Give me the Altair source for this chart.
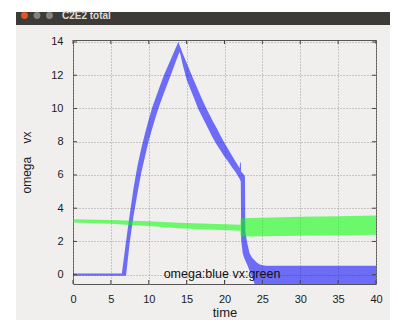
import altair as alt
import pandas as pd

# ---------------- data ----------------
blue_t = [0, 6.45, 7.0, 7.5, 8.0, 8.5, 9.0, 9.5, 10.0, 10.5, 11.0, 11.5, 12.0, 12.5,
          13.0, 13.5, 13.9, 14.1, 14.5, 15.0, 15.5, 16.0, 16.5, 17.0, 17.5, 18.0,
          18.5, 19.0, 19.5, 20.0, 20.5, 21.0, 21.5, 22.0, 22.05, 22.15, 22.2, 22.4,
          22.6, 22.7, 22.75, 22.8, 23.0, 23.3, 23.6, 24.0, 24.3, 24.6, 25.0, 25.5,
          30, 35, 40]
blue_hi = [0.07, 0.07, 2.0, 3.67, 5.23, 6.53, 7.58, 8.5, 9.33, 10.12, 10.75, 11.38, 12.0, 12.53,
           13.05, 13.58, 14.0, 13.77, 13.3, 12.75, 12.2, 11.65, 11.13, 10.6, 10.1, 9.65,
           9.2, 8.8, 8.35, 7.92, 7.54, 7.16, 6.78, 6.4, 6.75, 6.75, 6.2, 6.1,
           6.0, 5.9, 2.7, 2.45, 1.9, 1.3, 1.05, 0.85, 0.72, 0.63, 0.57, 0.54,
           0.54, 0.54, 0.54]
blue_lo = [-0.07, -0.07, -0.07, 2.0, 3.54, 4.88, 6.1, 7.1, 8.08, 8.85, 9.62, 10.3, 10.91, 11.52,
           12.12, 12.73, 13.22, 13.4, 12.6, 11.75, 11.15, 10.6, 10.0, 9.55, 9.1, 8.65,
           8.2, 7.8, 7.45, 7.1, 6.8, 6.45, 6.15, 5.75, 5.7, 5.6, 2.1, 1.3,
           1.0, 0.9, 0.85, 0.8, 0.6, 0.25, -0.1, -0.6, -0.6, -0.6, -0.6, -0.6,
           -0.6, -0.6, -0.6]

green_t = [0, 5, 7, 10, 14, 18, 22.1, 22.15, 25, 30, 35, 40]
green_lo = [3.14, 3.06, 3.0, 2.93, 2.8, 2.72, 2.64, 2.3, 2.31, 2.34, 2.37, 2.4]
green_hi = [3.34, 3.29, 3.26, 3.21, 3.12, 3.06, 3.0, 3.4, 3.43, 3.48, 3.52, 3.56]

x_ticks = [0, 5, 10, 15, 20, 25, 30, 35, 40]
y_ticks = [0, 2, 4, 6, 8, 10, 12, 14]

W, H = 303, 244

blue = pd.DataFrame({"t": blue_t, "lo": blue_lo, "hi": blue_hi})
green = pd.DataFrame({"t": green_t, "lo": green_lo, "hi": green_hi})
xt = pd.DataFrame({"t": x_ticks})
yt = pd.DataFrame({"v": y_ticks})
one = pd.DataFrame({"k": [0]})

NB = "\u00a0"
xs = alt.Scale(domain=[0, 40], nice=False, zero=False)
ys = alt.Scale(domain=[-0.56, 14.12], nice=False, zero=False)
xaxis = alt.Axis(values=x_ticks, title="time", labelPadding=9, labelFlush=False,
                 titlePadding=2, titleFontSize=13, grid=True)
yaxis = alt.Axis(values=y_ticks, title="omega" + NB * 4 + "vx", labelPadding=10,
                 labelFlush=False, titlePadding=17, titleFontSize=12, grid=True)

X = alt.X("t:Q", scale=xs, axis=xaxis)

# ---------------- window chrome ----------------
left_strip = alt.Chart(one).mark_rect(color="white").encode(
    x=alt.value(-65), x2=alt.value(-57), y=alt.value(-32), y2=alt.value(290))
top_strip = alt.Chart(one).mark_rect(color="white").encode(
    x=alt.value(-57), x2=alt.value(317), y=alt.value(-32), y2=alt.value(-28))
title_bar = alt.Chart(one).mark_rect(color="#3c3b37").encode(
    x=alt.value(-57), x2=alt.value(317), y=alt.value(-28), y2=alt.value(-15))
btn_close = alt.Chart(one).mark_circle(size=48, color="#e2561f", opacity=1).encode(
    x=alt.value(-48.5), y=alt.value(-24.5))
btn_min = alt.Chart(one).mark_circle(size=48, color="#84837e", opacity=1).encode(
    x=alt.value(-36), y=alt.value(-24.5))
btn_max = alt.Chart(one).mark_circle(size=48, color="#84837e", opacity=1).encode(
    x=alt.value(-23.5), y=alt.value(-24.5))
win_title = alt.Chart(one).mark_text(
    text="C2E2 total", align="left", baseline="middle", font="Liberation Sans",
    fontWeight="bold", fontSize=10, color="#dfdbd2").encode(
    x=alt.value(-11), y=alt.value(-24.3))

# ---------------- data marks ----------------
blue_area = alt.Chart(blue).mark_area(color="#0000ff", opacity=0.55, clip=True).encode(
    x=X, y=alt.Y("lo:Q", scale=ys, axis=yaxis), y2="hi:Q")
green_area = alt.Chart(green).mark_area(color="#00ff00", opacity=0.55, clip=True).encode(
    x=X, y=alt.Y("lo:Q", scale=ys, axis=yaxis), y2="hi:Q")

tick_col = "#444444"
bt = alt.Chart(xt).mark_rule(color=tick_col).encode(x=X, y=alt.value(H), y2=alt.value(H - 4))
tt = alt.Chart(xt).mark_rule(color=tick_col).encode(x=X, y=alt.value(0), y2=alt.value(4))
lt = alt.Chart(yt).mark_rule(color=tick_col).encode(
    y=alt.Y("v:Q", scale=ys, axis=yaxis), x=alt.value(0), x2=alt.value(4))
rt = alt.Chart(yt).mark_rule(color=tick_col).encode(
    y=alt.Y("v:Q", scale=ys, axis=yaxis), x=alt.value(W), x2=alt.value(W - 4))

key = alt.Chart(one).mark_text(
    text="omega:blue vx:green", align="center", baseline="alphabetic",
    font="Liberation Sans", fontSize=12.5, color="#111111").encode(
    x=alt.value(149), y=alt.value(238))

chart = alt.layer(
    left_strip, top_strip, title_bar, btn_close, btn_min, btn_max, win_title,
    blue_area, green_area, bt, tt, lt, rt, key
).properties(
    width=W, height=H,
    padding={"left": 65, "top": 32, "right": 14, "bottom": 36},
    autosize=alt.AutoSizeParams(type="none"),
    background="#f0efee",
).configure_view(
    stroke="#555555", strokeWidth=1
).configure_axis(
    labelFont="Liberation Sans", titleFont="Liberation Sans",
    labelFontSize=11, titleFontWeight="normal",
    labelColor="#1a1a1a", titleColor="#1a1a1a",
    domain=False, ticks=False,
    gridColor="#9a9a9a", gridDash=[1, 2], gridWidth=1,
)

chart.save("out.html", embed_options={"renderer": "svg", "actions": False})
